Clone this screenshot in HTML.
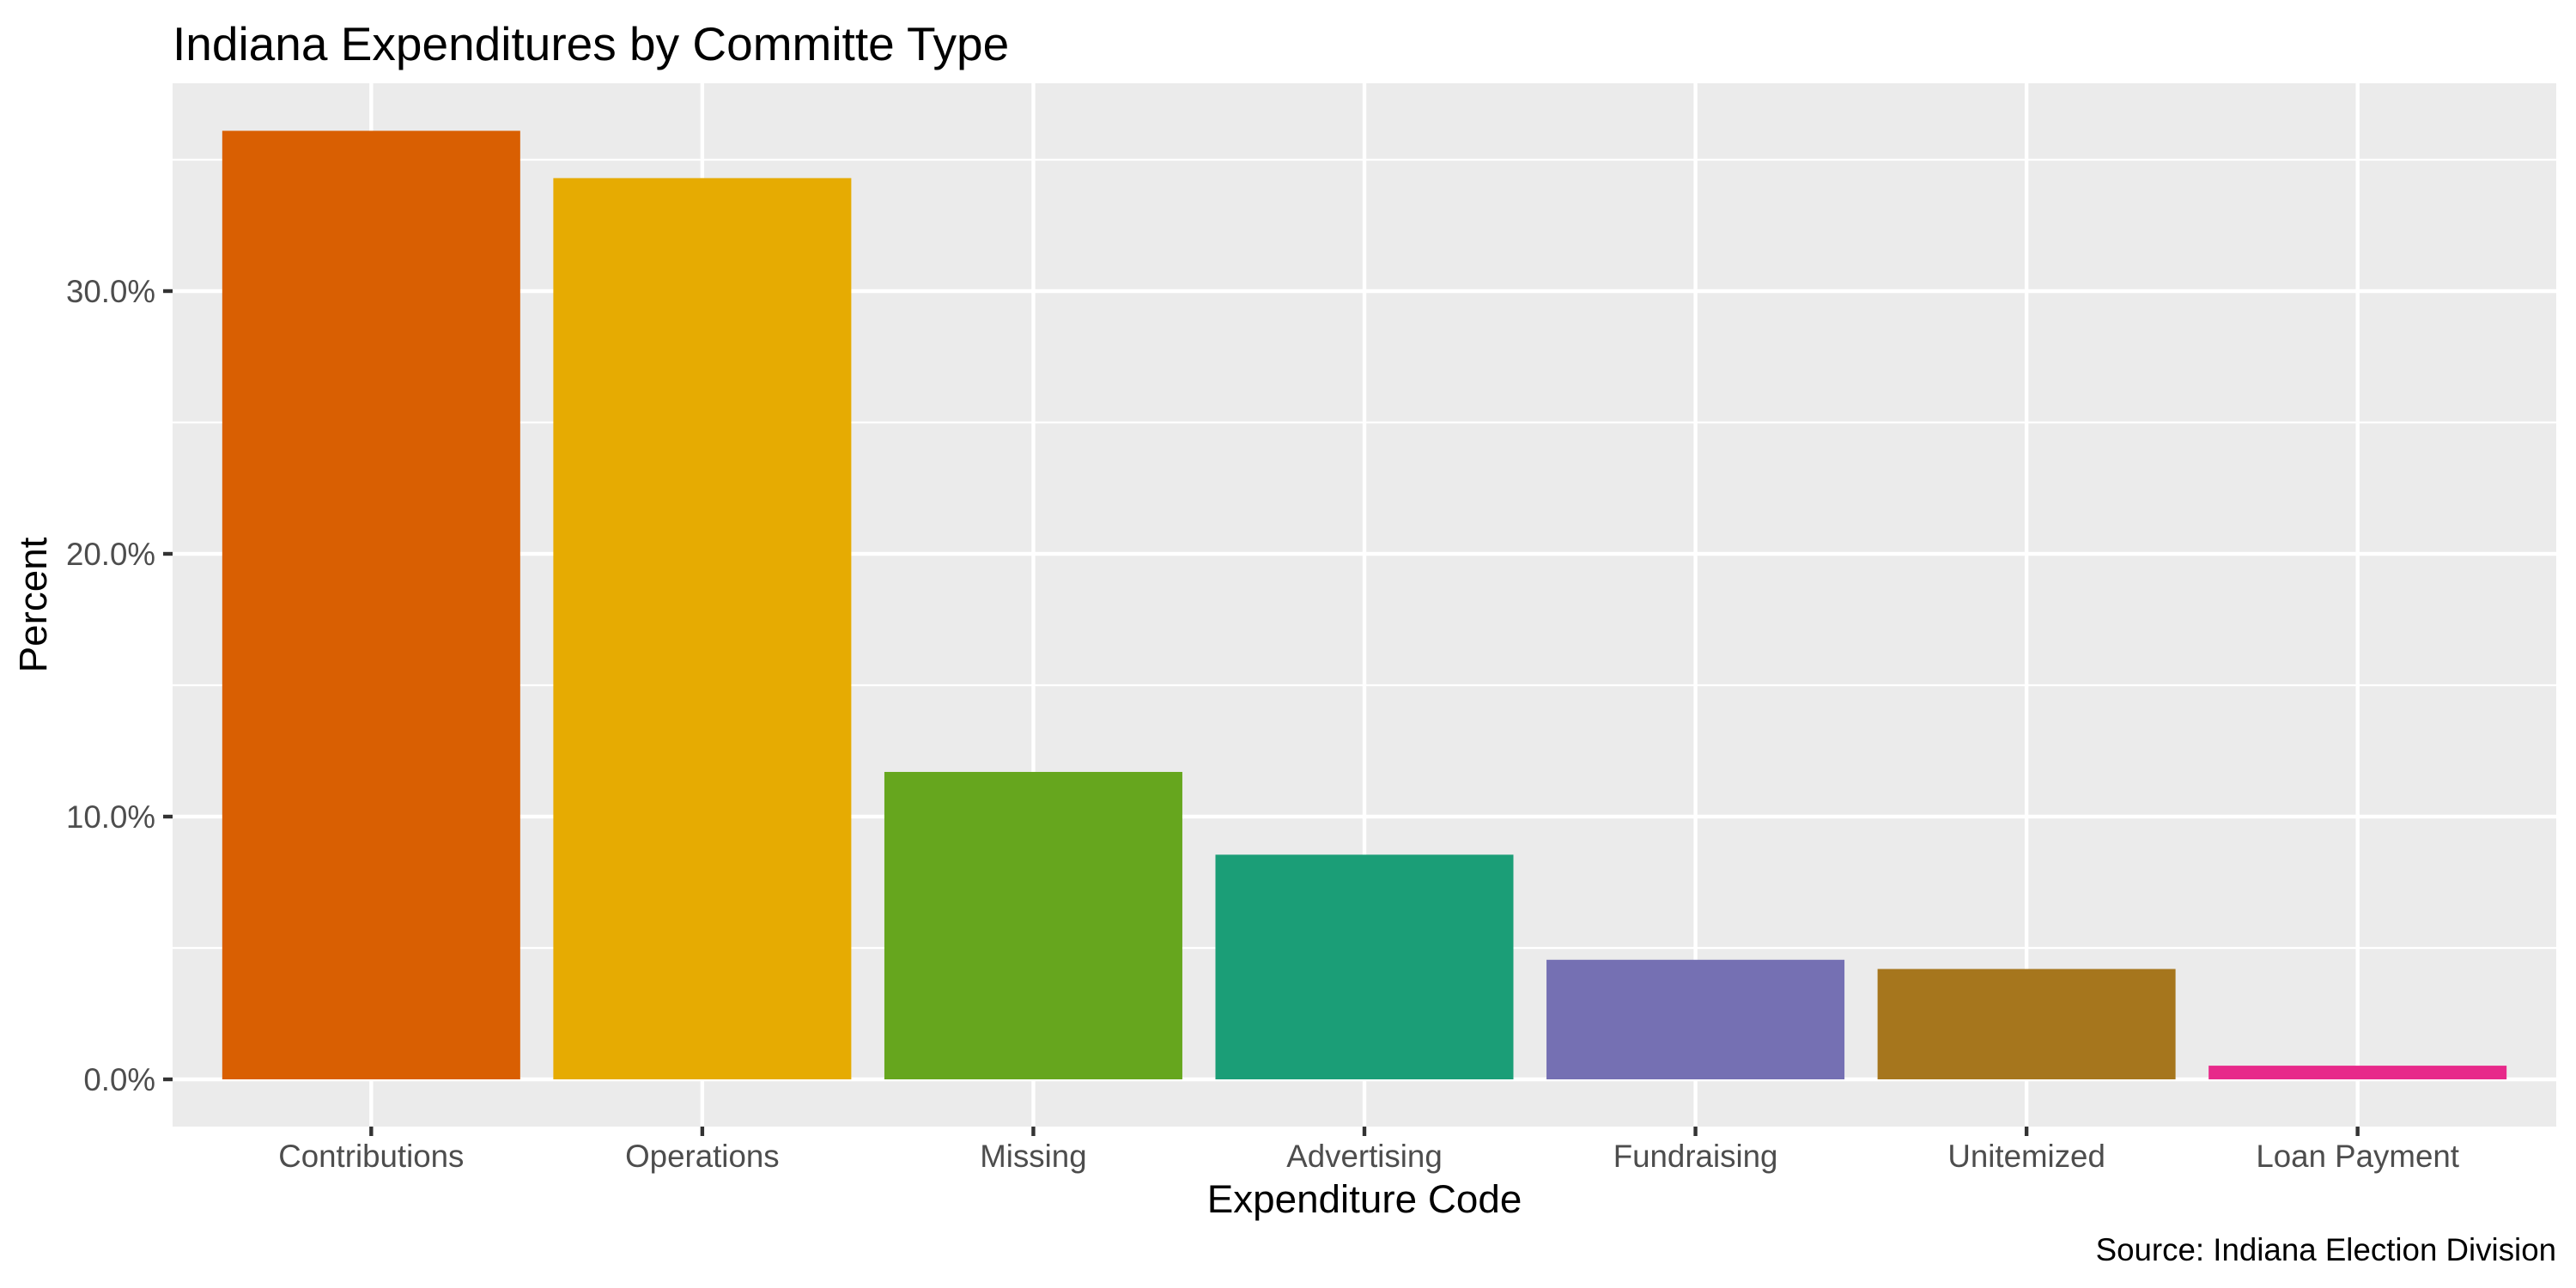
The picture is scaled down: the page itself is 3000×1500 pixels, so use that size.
<!DOCTYPE html>
<html><head><meta charset="utf-8"><style>body{margin:0;background:#fff}svg{display:block;font-family:"Liberation Sans",Arial,sans-serif}</style></head>
<body>
<svg id="chart" width="3000" height="1500" viewBox="0 0 3000 1500">
<rect width="3000" height="1500" fill="#fff"/>
<g id="g"></g>
</svg>
<script>
const categories = ["Contributions","Operations","Missing","Advertising","Fundraising","Unitemized","Loan Payment"];
const values = [36.1, 34.3, 11.7, 8.55, 4.55, 4.2, 0.52];
const colors = ["#D95F02","#E6AB02","#66A61E","#1B9E77","#7570B3","#A6761D","#E7298A"];
const yTicks = [0, 10, 20, 30];
const yTickLabels = ["0.0%","10.0%","20.0%","30.0%"];
const yMinor = [5, 15, 25, 35];

const L=201, R=2977, T=97, B=1312;
const y0=1257, pxPer=30.6;
const step=(R-L)/(categories.length+0.2);
const xs=i=>L+step*(0.6+i);
const ys=v=>y0-v*pxPer;
const NS="http://www.w3.org/2000/svg";
const g=document.getElementById('g');
function mk(t,a,txt){const e=document.createElementNS(NS,t);for(const k in a)e.setAttribute(k,a[k]);if(txt!==undefined)e.textContent=txt;g.appendChild(e);return e;}

let e=mk('rect',{x:L,y:T,width:R-L,height:B-T,fill:'#EBEBEB'});


yMinor.forEach(v=>{const l=mk('line',{x1:L,x2:R,y1:ys(v),y2:ys(v),stroke:'#fff','stroke-width':2.2});

});
yTicks.forEach((v,i)=>{const l=mk('line',{x1:L,x2:R,y1:ys(v),y2:ys(v),stroke:'#fff','stroke-width':4.4});


const t=mk('line',{x1:L-11,x2:L,y1:ys(v),y2:ys(v),stroke:'#333','stroke-width':4.4});


const tx=mk('text',{x:L-20,y:ys(v)+13,'text-anchor':'end','font-size':36.7,fill:'#4D4D4D'},yTickLabels[i]);

});
categories.forEach((c,i)=>{const x=xs(i);
const l=mk('line',{x1:x,x2:x,y1:T,y2:B,stroke:'#fff','stroke-width':4.4});


const w=step*0.9;
const b=mk('rect',{x:x-w/2,y:ys(values[i]),width:w,height:y0-ys(values[i]),fill:colors[i]});


const t=mk('line',{x1:x,x2:x,y1:B,y2:B+11,stroke:'#333','stroke-width':4.4});


const tx=mk('text',{x:x,y:1359,'text-anchor':'middle','font-size':36.7,fill:'#4D4D4D'},c);

});
e=mk('text',{x:L,y:70,'font-size':55,fill:'#000'},'Indiana Expenditures by Committe Type');


e=mk('text',{x:(L+R)/2,y:1412,'text-anchor':'middle','font-size':45.8,fill:'#000'},'Expenditure Code');


e=mk('text',{x:54,y:(T+B)/2,'text-anchor':'middle','font-size':45.8,fill:'#000',transform:'rotate(-90 54 '+((T+B)/2)+')'},'Percent');


e=mk('text',{x:R,y:1468,'text-anchor':'end','font-size':36.7,fill:'#000'},'Source: Indiana Election Division');


</script>
</body></html>
